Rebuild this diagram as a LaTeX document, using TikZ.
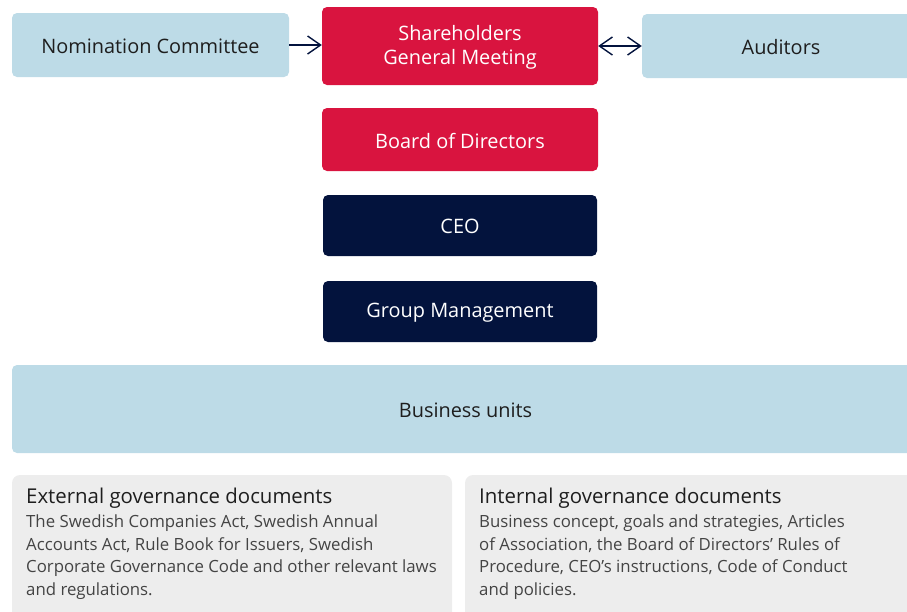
\documentclass[tikz,border=0pt]{standalone}
\usepackage{fontspec}
\setmainfont{Open Sans}
\usetikzlibrary{arrows.meta}
\definecolor{paleblue}{HTML}{BDDBE7}
\definecolor{crimson}{HTML}{D9143F}
\definecolor{navy}{HTML}{03133D}
\definecolor{docgray}{HTML}{EDEDED}
\definecolor{inktext}{HTML}{1E1E1E}
\definecolor{bodytext}{HTML}{444444}
\tikzset{
  box/.style={rounded corners=5pt, inner sep=0pt, align=center,
    font=\fontsize{19.9}{24}\selectfont},
  boxlabel/.style={inner sep=0pt, align=center, yshift=-1pt,
    font=\fontsize{19.9}{24}\selectfont},
  lightbox/.style={box, fill=paleblue},
  redbox/.style={box, fill=crimson},
  darkbox/.style={box, fill=navy},
  docbox/.style={rounded corners=8pt, fill=docgray},
  doctitle/.style={anchor=north west, inner sep=0pt, text=inktext,
    font=\fontsize{20.4}{24}\selectfont},
  docbody/.style={anchor=north west, inner sep=0pt, text=bodytext, align=left,
    font=\fontsize{16.8}{22.7}\selectfont},
  link/.style={draw=navy, line width=1.4pt},
  chev/.tip={Straight Barb[length=13pt, width=18pt, line width=1.4pt]}
}
\begin{document}
\begin{tikzpicture}[x=1pt, y=-1pt]
  \useasboundingbox (0,0) rectangle (907,611);
  \clip (0,0) rectangle (907,611);

  % governance bodies
  \node[lightbox, minimum width=277pt, minimum height=64pt] (nom) at (150.5,45) {};
  \node[redbox, minimum width=276pt, minimum height=78pt] (agm) at (460,46) {};
  \node[lightbox, minimum width=278pt, minimum height=64pt] (aud) at (781,46) {};
  \node[redbox, minimum width=276pt, minimum height=63pt] (board) at (460,139.5) {};
  \node[darkbox, minimum width=274pt, minimum height=61pt] (ceo) at (460,225.5) {};
  \node[darkbox, minimum width=274pt, minimum height=61pt] (gm) at (460,311.5) {};
  \node[lightbox, minimum width=907pt, minimum height=88pt] (bu) at (465.5,409) {};

  % labels, set slightly below the box centres
  \node[boxlabel, text=inktext] (nomlabel) at (nom.center) {Nomination Committee};
  \node[boxlabel, text=white] (agmlabel) at (agm.center) {Shareholders\\General Meeting};
  \node[boxlabel, text=inktext] (audlabel) at (aud.center) {Auditors};
  \node[boxlabel, text=white] (boardlabel) at (board.center) {Board of Directors};
  \node[boxlabel, text=white] (ceolabel) at (ceo.center) {CEO};
  \node[boxlabel, text=white] (gmlabel) at (gm.center) {Group Management};
  \node[boxlabel, text=inktext] (bulabel) at (bu.center) {Business units};

  % connectors
  \draw[link, -{chev}] (nom.east) -- (nom.east -| agm.west);
  \draw[link, {chev}-{chev}] (agm.east |- aud.west) -- (aud.west);

  % governance documents
  \fill[docbox] (12,475) rectangle (452,630);
  \fill[docbox] (465,475) rectangle (930,630);
  \node[doctitle] (extt) at (26,488) {External governance documents};
  \node[docbody] (extb) at (26,514.5) {The Swedish Companies Act, Swedish Annual\\Accounts Act, Rule Book for Issuers, Swedish\\Corporate Governance Code and other relevant laws\\and regulations.};
  \node[doctitle] (intt) at (479,488) {Internal governance documents};
  \node[docbody] (intb) at (479,514.5) {Business concept, goals and strategies, Articles\\of Association, the Board of Directors’ Rules of\\Procedure, CEO’s instructions, Code of Conduct\\and policies.};
\end{tikzpicture}
\end{document}
